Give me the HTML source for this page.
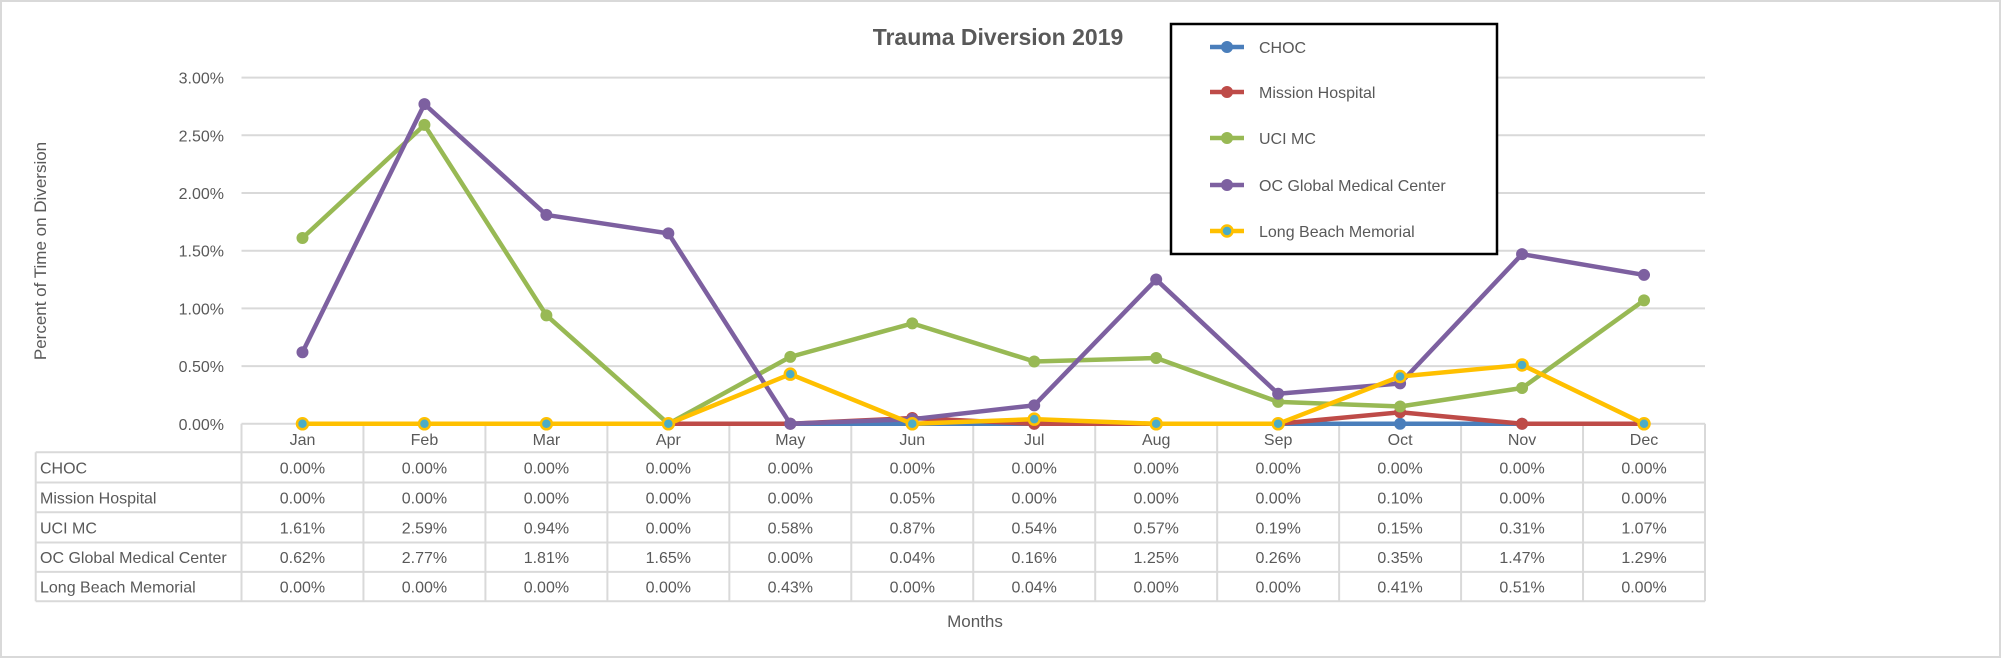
<!DOCTYPE html>
<html><head><meta charset="utf-8">
<style>
html,body{margin:0;padding:0;background:#fff;}
svg{display:block;font-family:"Liberation Sans",sans-serif;}
</style></head>
<body>
<svg id="chart" width="2001" height="658" viewBox="0 0 2001 658">
<rect x="1" y="1" width="1999" height="656" fill="#fff" stroke="#d9d9d9" stroke-width="2"/>
<text x="998" y="45" text-anchor="middle" font-size="23" font-weight="bold" fill="#595959">Trauma Diversion 2019</text>
<text transform="translate(46,251) rotate(-90)" text-anchor="middle" font-size="17" fill="#595959">Percent of Time on Diversion</text>
<text x="975" y="627" text-anchor="middle" font-size="17" fill="#595959">Months</text>
<g id="grid"></g><g id="table"></g><g id="series"></g><g id="legend"></g>
</svg>
<script>
const months = ["Jan","Feb","Mar","Apr","May","Jun","Jul","Aug","Sep","Oct","Nov","Dec"];
const seriesNames = ["CHOC","Mission Hospital","UCI MC","OC Global Medical Center","Long Beach Memorial"];
const choc = [0,0,0,0,0,0,0,0,0,0,0,0];
const mission = [0,0,0,0,0,0.05,0,0,0,0.10,0,0];
const ucimc = [1.61,2.59,0.94,0,0.58,0.87,0.54,0.57,0.19,0.15,0.31,1.07];
const ocglobal = [0.62,2.77,1.81,1.65,0,0.04,0.16,1.25,0.26,0.35,1.47,1.29];
const longbeach = [0,0,0,0,0.43,0,0.04,0,0,0.41,0.51,0];
const yTicks = [0,0.5,1,1.5,2,2.5,3];
const NS="http://www.w3.org/2000/svg";
const L=241.5,R=1705,T=77.6,B=423.8;
const colW=(R-L)/months.length;
function x(i){return L+colW*(i+0.5);}
function y(v){return B-(v/3)*(B-T);}
function mk(tag,attrs,parent,text){const e=document.createElementNS(NS,tag);for(const k in attrs)e.setAttribute(k,attrs[k]);if(text!==undefined)e.textContent=text;parent.appendChild(e);return e;}
const grid=document.getElementById('grid');
yTicks.forEach(t=>{
  const g=mk('line',{x1:L,x2:R,y1:y(t),y2:y(t),stroke:'#d9d9d9','stroke-width':2},grid);
  
  
  const tx=mk('text',{x:224,y:y(t)+6,'text-anchor':'end','font-size':16,fill:'#595959'},grid,t.toFixed(2)+'%');
  
  
});
// table
const tb=document.getElementById('table');
const rowY=[423.8,452.3,482.5,512.3,542.5,571.9,601.3];
const data=[choc,mission,ucimc,ocglobal,longbeach];
const tl=35.7;
for(let r=1;r<rowY.length;r++){mk('line',{x1:tl,x2:R,y1:rowY[r],y2:rowY[r],stroke:'#d9d9d9','stroke-width':2},tb);}
mk('line',{x1:tl,x2:tl,y1:rowY[1],y2:rowY[6],stroke:'#d9d9d9','stroke-width':2},tb);
for(let i=0;i<=months.length;i++){const xx=L+colW*i;mk('line',{x1:xx,x2:xx,y1:B,y2:rowY[6],stroke:'#d9d9d9','stroke-width':2},tb);}
months.forEach((m,i)=>{
  const t=mk('text',{x:x(i),y:445,'text-anchor':'middle','font-size':16,fill:'#595959'},tb,m);
  
  
});
seriesNames.forEach((n,r)=>{
  const cy=(rowY[r+1]+rowY[r+2])/2+6;
  const t=mk('text',{x:40,y:cy,'font-size':16,fill:'#595959'},tb,n);
  
  
  data[r].forEach((v,i)=>{
    const c=mk('text',{x:x(i),y:cy,'text-anchor':'middle','font-size':16,fill:'#595959'},tb,v.toFixed(2)+'%');
    
    
  });
});
// series
const colors=['#4a7ebb','#be4b48','#98b954','#7d60a0','#ffc000'];
const sg=document.getElementById('series');
data.forEach((vals,s)=>{
  const pts=vals.map((v,i)=>x(i)+','+y(v)).join(' ');
  const pl=mk('polyline',{points:pts,fill:'none',stroke:colors[s],'stroke-width':4.5,'stroke-linejoin':'round'},sg);
  
  
  vals.forEach((v,i)=>{
    const c=mk('circle',{cx:x(i),cy:y(v),r:5.5,fill:s===4?'#4bacc6':colors[s],stroke:colors[s],'stroke-width':s===4?2.5:1},sg);
    
    
  });
});
// legend
const lg=document.getElementById('legend');
const box=mk('rect',{x:1171,y:24,width:326,height:230,fill:'#fff',stroke:'#000','stroke-width':2.5},lg);


const ly=[47,92,138,185,231];
seriesNames.forEach((n,s)=>{
  const g=mk('g',{},lg);
  
  
  mk('line',{x1:1210,x2:1244,y1:ly[s],y2:ly[s],stroke:colors[s],'stroke-width':4.5},g);
  mk('circle',{cx:1227,cy:ly[s],r:5.5,fill:s===4?'#4bacc6':colors[s],stroke:colors[s],'stroke-width':s===4?2.5:1},g);
  mk('text',{x:1259,y:ly[s]+6,'font-size':16,fill:'#595959'},g,n);
});
</script>
</body></html>
